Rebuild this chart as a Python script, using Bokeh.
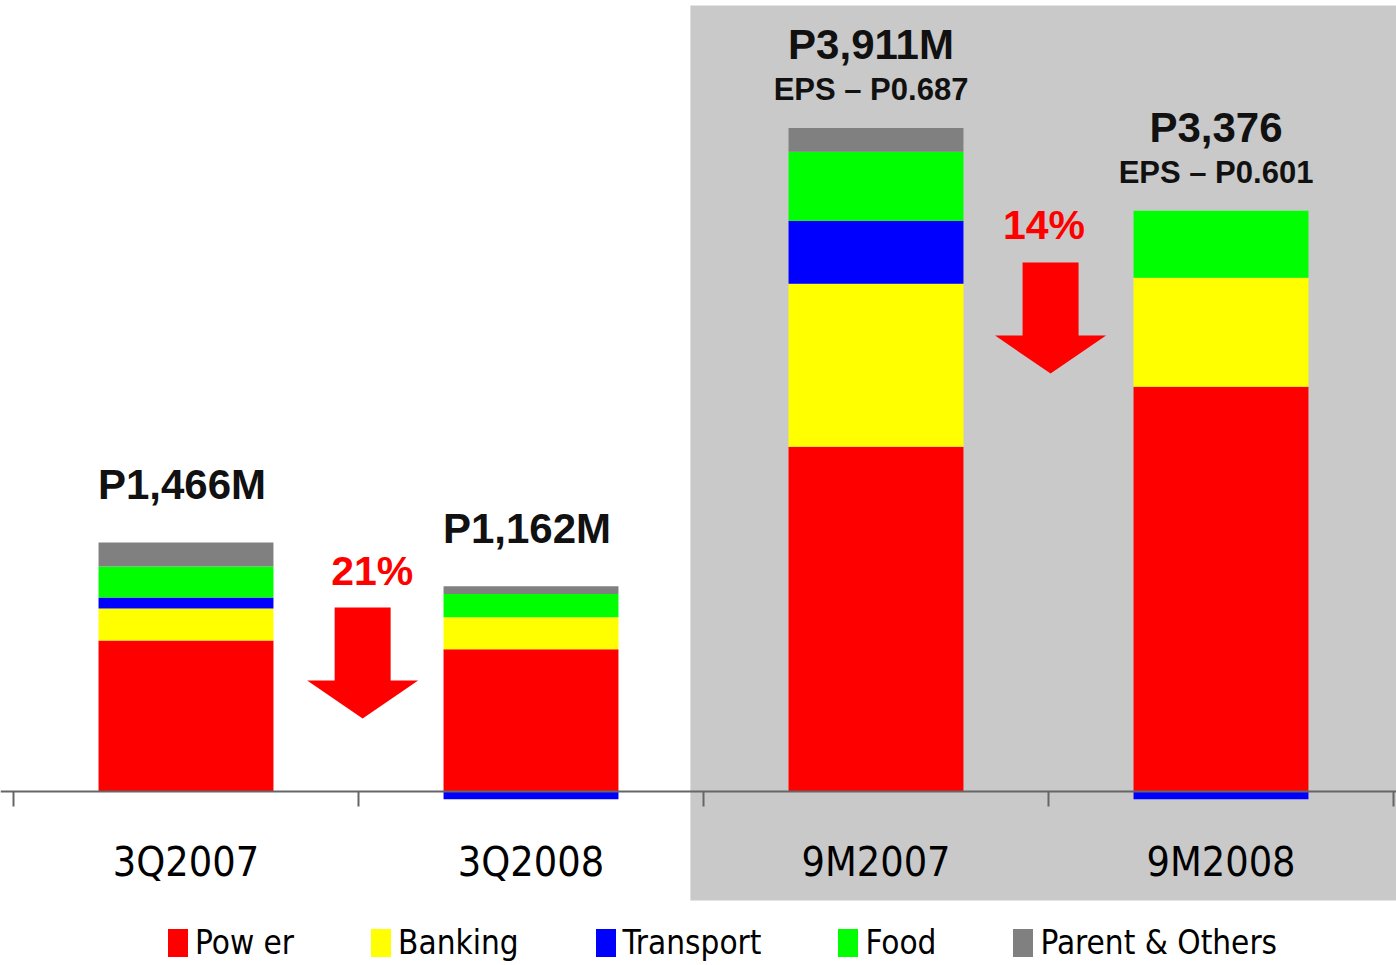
from bokeh.plotting import figure
from bokeh.models import LinearAxis, FixedTicker, Range1d, Legend, LegendItem
from bokeh.core.properties import value
from bokeh.embed import file_html
from bokeh.resources import INLINE

# ---------------- data ----------------
periods = ["3Q2007", "3Q2008", "9M2007", "9M2008"]
segments = ["Pow er", "Banking", "Transport", "Food", "Parent & Others"]
power = [888, 837, 2031, 2385]
banking = [189, 189, 961, 643]
transport = [65, -47, 371, -47]
food = [183, 136, 407, 395]
parent = [141, 47, 141, 0]
total_labels = ["P1,466M", "P1,162M", "P3,911M", "P3,376"]
eps_labels = ["", "", "EPS \u2013 P0.687", "EPS \u2013 P0.601"]
change_labels = ["21%", "14%"]

# ---------------- style / layout ----------------
colors = ["#FF0000", "#FFFF00", "#0000FF", "#00FF00", "#808080"]
W, H = 1396, 965
XU = 345.0                  # px per category
YU = 0.1696                 # px per value unit
X0 = -13 / XU
X1 = X0 + W / XU
Y1 = 790.7 / YU
Y0 = Y1 - H / YU
BAR_W = 0.507
GRAY = "#C9C9C9"
GRAY_LEFT = 1.962
GRAY_TOP = 4632
GRAY_BOTTOM = -644
COND = "DejaVu Sans Condensed"
BOLD = "Liberation Sans"
change_text_x = [1.040, 2.987]
change_text_y = [1213, 3253]
arrow_x = [1.012, 3.006]
arrow_top = [1083, 3117]

p = figure(width=W, height=H, x_range=Range1d(X0, X1), y_range=Range1d(Y0, Y1),
           output_backend="svg", toolbar_location=None,
           x_axis_location=None, y_axis_location=None,
           min_border=0, min_border_left=0, min_border_right=0,
           min_border_top=0, min_border_bottom=0)
p.outline_line_color = None
p.xgrid.visible = False
p.ygrid.visible = False
p.background_fill_color = "white"
p.border_fill_color = "white"

# gray panel behind the nine-month comparison
p.quad(left=[GRAY_LEFT], right=[X1 + 1], top=[GRAY_TOP], bottom=[GRAY_BOTTOM],
       fill_color=GRAY, line_color=None)

# stacked bars (positive up, negative down)
xs = [i + 0.5 for i in range(len(periods))]
series = [power, banking, transport, food, parent]
pos = [0.0] * len(periods)
neg = [0.0] * len(periods)
renderers = []
for name, vals, col in zip(segments, series, colors):
    bottoms, tops = [], []
    for i, v in enumerate(vals):
        if v >= 0:
            bottoms.append(pos[i]); tops.append(pos[i] + v); pos[i] += v
        else:
            bottoms.append(neg[i]); tops.append(neg[i] + v); neg[i] += v
    r = p.vbar(x=xs, width=BAR_W, bottom=bottoms, top=tops, fill_color=col, line_color=None)
    renderers.append(r)

# totals / EPS labels
plain = [i for i in range(len(periods)) if not eps_labels[i]]
witheps = [i for i in range(len(periods)) if eps_labels[i]]
p.text(x=[xs[i] for i in plain], y=[pos[i] for i in plain], text=[total_labels[i] for i in plain],
       text_font=value(BOLD), text_font_style="bold", text_font_size="42px", text_color="#111111",
       text_align="center", text_baseline="alphabetic", y_offset=-58, x_offset=-4)
p.text(x=[xs[i] for i in witheps], y=[pos[i] for i in witheps], text=[total_labels[i] for i in witheps],
       text_font=value(BOLD), text_font_style="bold", text_font_size="42px", text_color="#111111",
       text_align="center", text_baseline="alphabetic", y_offset=-83, x_offset=-5)
p.text(x=[xs[i] for i in witheps], y=[pos[i] for i in witheps], text=[eps_labels[i] for i in witheps],
       text_font=value(BOLD), text_font_style="bold", text_font_size="31px", text_color="#111111",
       text_align="center", text_baseline="alphabetic", y_offset=-38, x_offset=-5)

# change labels and arrows
p.text(x=change_text_x, y=change_text_y, text=change_labels,
       text_font=value(BOLD), text_font_style="bold", text_font_size="41px", text_color="#FF0000",
       text_align="center", text_baseline="alphabetic", y_offset=-14)
shaft_hw, head_hw = 28 / XU, 55.5 / XU
shaft_len, head_len = 73 / YU, 38 / YU
axs, ays = [], []
for cx, ty in zip(arrow_x, arrow_top):
    axs.append([cx - shaft_hw, cx + shaft_hw, cx + shaft_hw, cx + head_hw, cx, cx - head_hw, cx - shaft_hw])
    yb = ty - shaft_len
    ays.append([ty, ty, yb, yb, yb - head_len, yb, yb])
p.patches(xs=axs, ys=ays, fill_color="#FF0000", line_color=None)

# axes: tick marks at category boundaries, labels at category centres
tick_axis = LinearAxis(ticker=FixedTicker(ticks=list(range(len(periods) + 1))), fixed_location=0,
                       axis_line_color="#666666", axis_line_width=2,
                       major_tick_line_color="#666666", major_tick_line_width=2,
                       major_tick_in=0, major_tick_out=15, minor_tick_line_color=None,
                       major_label_text_font_size="0px", major_label_text_color=None)
p.add_layout(tick_axis, "below")
label_axis = LinearAxis(ticker=FixedTicker(ticks=xs), fixed_location=0,
                        axis_line_color=None, major_tick_line_color=None, minor_tick_line_color=None,
                        major_tick_in=0, major_tick_out=0, major_label_standoff=47,
                        major_label_overrides={x: lab for x, lab in zip(xs, periods)},
                        major_label_text_font=COND, major_label_text_font_size="41px",
                        major_label_text_color="black")
p.add_layout(label_axis, "below")

legend = Legend(items=[LegendItem(label=s, renderers=[r]) for s, r in zip(segments, renderers)],
                orientation="horizontal", location=(165, 3),
                glyph_width=25, glyph_height=35, label_standoff=5, spacing=74,
                padding=0, margin=0, border_line_color=None, background_fill_alpha=0,
                label_text_font=COND, label_text_font_size="33px", label_text_color="black")
p.add_layout(legend, "center")

open("out.html", "w").write(file_html(p, INLINE))
